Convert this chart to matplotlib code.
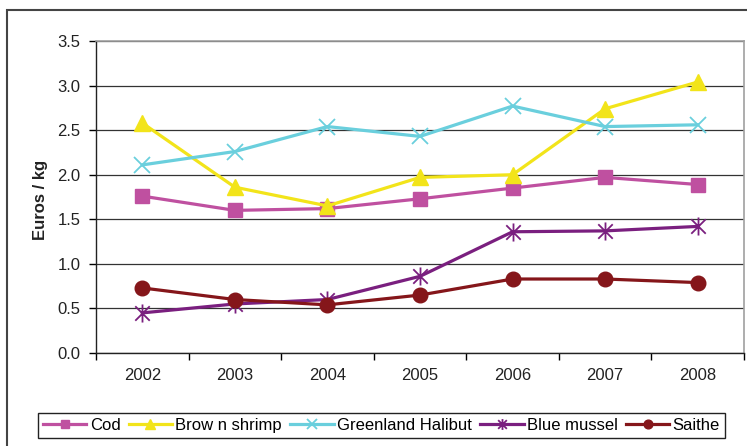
import numpy as np
import matplotlib
matplotlib.use('agg')
import matplotlib.pyplot as plt
from matplotlib.patches import Rectangle
from matplotlib.path import Path

years = ["2002", "2003", "2004", "2005", "2006", "2007", "2008"]
cod = [1.76, 1.60, 1.62, 1.73, 1.85, 1.97, 1.89]
brown_shrimp = [2.58, 1.86, 1.65, 1.97, 2.00, 2.74, 3.04]
greenland_halibut = [2.11, 2.26, 2.54, 2.43, 2.77, 2.54, 2.56]
blue_mussel = [0.45, 0.55, 0.60, 0.86, 1.36, 1.37, 1.42]
saithe = [0.73, 0.60, 0.54, 0.65, 0.83, 0.83, 0.79]

# excel style star: vertical bar plus an x
star = Path([(0, -1), (0, 1), (-0.8, -0.8), (0.8, 0.8), (-0.8, 0.8), (0.8, -0.8)],
            [Path.MOVETO, Path.LINETO, Path.MOVETO, Path.LINETO, Path.MOVETO, Path.LINETO])

series = [
    ("Cod", cod, "#BF50A0", "s", 10.5),
    ("Brow n shrimp", brown_shrimp, "#F2E41A", "^", 12),
    ("Greenland Halibut", greenland_halibut, "#6ACFDD", "x", 11),
    ("Blue mussel", blue_mussel, "#7A1F7F", star, 13),
    ("Saithe", saithe, "#85161A", "o", 10.5),
]

plt.rcParams['font.family'] = ['Liberation Sans', 'DejaVu Sans']
plt.rcParams['font.size'] = 12

fig = plt.figure(figsize=(7.47, 4.46), dpi=100)
W, H = 747.0, 446.0
ax = fig.add_axes([96 / W, 1 - 353 / H, (744 - 96) / W, (353 - 41) / H])

x = np.arange(len(years))
for name, vals, col, mk, ms in series:
    ax.plot(x, vals, color=col, lw=2.3, marker=mk, markersize=ms,
            markeredgewidth=1.3 if mk is star or mk == "x" else 1.0,
            markeredgecolor=col, markerfacecolor=col, label=name)

ax.set_xlim(-0.5, 6.5)
ax.set_ylim(0, 3.5)
ax.set_yticks(np.arange(0, 3.51, 0.5))
ax.set_yticklabels(["%.1f" % v for v in np.arange(0, 3.51, 0.5)])
ax.set_xticks(x)
ax.set_xticklabels(years)
ax.set_xticks(np.arange(-0.5, 7, 1), minor=True)
ax.tick_params(axis='x', which='major', length=0, pad=11, labelsize=12, colors='#222222')
ax.tick_params(axis='x', which='minor', length=5, direction='out', width=1)
ax.tick_params(axis='y', length=5, direction='out', width=1, labelsize=12, pad=6,
               labelcolor='#222222')

ax.grid(axis='y', color='#333333', lw=0.9)
ax.set_axisbelow(True)
for s in ['top', 'right']:
    ax.spines[s].set_color('#a0a0a0')
    ax.spines[s].set_linewidth(1.2)
for s in ['left', 'bottom']:
    ax.spines[s].set_color('#222222')
    ax.spines[s].set_linewidth(1.0)

fig.text(40 / W, 1 - 200 / H, "Euros / kg", rotation=90, ha='center', va='center',
         fontweight='bold', fontsize=12, color='#222222')

# outer chart frame
fig.patches.append(Rectangle((7 / W, -0.1), 1.2, 1 - 10 / H + 0.1, transform=fig.transFigure,
                             fill=False, edgecolor='#444444', lw=1.5))

leg = fig.legend(loc='upper center', bbox_to_anchor=(381.5 / W, 1 - 413 / H), ncol=5,
                 frameon=True, fancybox=False, edgecolor='#222222', framealpha=1,
                 fontsize=12, handlelength=2.6, handletextpad=0.2, columnspacing=0.5,
                 markerscale=0.6, borderpad=0.3, borderaxespad=0)
leg.get_frame().set_linewidth(1.0)

plt.savefig('out.png', dpi=100)
